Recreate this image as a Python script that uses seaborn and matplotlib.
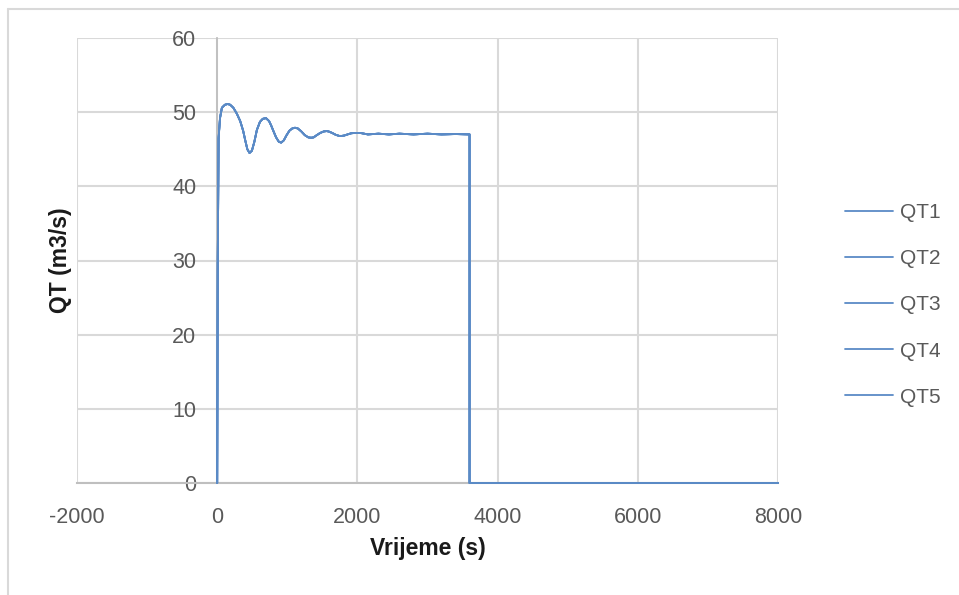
import pandas as pd
import seaborn as sns
import matplotlib.pyplot as plt
from matplotlib.lines import Line2D

# vrijeme (s) i protok QT (m3/s), ocitano sa slike
vrijeme = [0, 8, 20, 40, 67, 110, 150, 185, 230, 280, 328, 370, 400, 430, 461,
           495, 530, 566, 610, 650, 695, 740, 770, 800, 840, 880, 913, 950, 990,
           1030, 1070, 1110, 1151, 1200, 1250, 1300, 1340, 1375, 1420, 1470,
           1520, 1560, 1589, 1640, 1690, 1740, 1780, 1812, 1860, 1910, 1960,
           2040, 2150, 2300, 2450, 2600, 2800, 3000, 3200, 3400, 3600, 3600, 8000]
qt = [0, 30, 46.5, 49.2, 50.6, 51.0, 51.1, 51.0, 50.6, 49.8, 48.8, 47.5, 46.2,
      45.0, 44.5, 44.8, 46.0, 47.6, 48.7, 49.1, 49.2, 48.8, 48.2, 47.5, 46.6,
      46.0, 45.9, 46.2, 46.9, 47.5, 47.8, 47.9, 47.8, 47.4, 46.9, 46.6, 46.55,
      46.6, 46.9, 47.2, 47.4, 47.45, 47.4, 47.2, 46.95, 46.8, 46.8, 46.85, 47.0,
      47.15, 47.2, 47.2, 47.0, 47.1, 47.0, 47.1, 47.0, 47.1, 47.0, 47.05, 47.0,
      0, 0]
serije = ["QT1", "QT2", "QT3", "QT4", "QT5"]
x_ticks = [-2000, 0, 2000, 4000, 6000, 8000]
y_ticks = [0, 10, 20, 30, 40, 50, 60]

df = pd.concat([pd.DataFrame({"t": vrijeme, "QT": qt, "serija": s}) for s in serije])

sns.set_style("white")
plt.rcParams["font.family"] = ["Liberation Sans", "DejaVu Sans"]
plt.rcParams["axes.unicode_minus"] = False

boja = "#5a8ac6"
fig = plt.figure(figsize=(9.59, 5.95), dpi=100)
ax = fig.add_axes([77 / 959, 1 - 483 / 595, 701 / 959, 445 / 595])

sns.lineplot(data=df, x="t", y="QT", hue="serija", palette=[boja] * 5,
             estimator=None, sort=False, linewidth=1.3, ax=ax, legend=False)
for ln in ax.lines:
    ln.set_clip_on(False)
    ln.set_zorder(3)

ax.set_xlim(-2000, 8000)
ax.set_ylim(0, 60)
ax.set_xticks(x_ticks)
ax.set_yticks(y_ticks)
ax.grid(True, color="#d9d9d9", linewidth=1.5)
ax.set_axisbelow(True)

for s in ["top", "right"]:
    ax.spines[s].set_visible(False)
ax.spines["left"].set_position(("data", 0))
ax.spines["left"].set_color("#bfbfbf")
ax.spines["left"].set_linewidth(1.3)
ax.spines["bottom"].set_color("#bfbfbf")
ax.spines["bottom"].set_linewidth(1.5)
ax.tick_params(axis="both", length=0, labelsize=15.5, labelcolor="#595959")
ax.tick_params(axis="y", pad=15)
ax.tick_params(axis="x", pad=17)

ax.set_xlabel("Vrijeme (s)", fontsize=16.5, fontweight="bold", color="#1a1a1a")
ax.set_ylabel("QT (m3/s)", fontsize=16.5, fontweight="bold", color="#1a1a1a")
ax.yaxis.set_label_coords(-(77 - 60) / 701, 0.5)
ax.xaxis.set_label_coords(0.5, -(549 - 483) / 445)
ax.xaxis.label.set_va("center")
ax.yaxis.label.set_va("center")

rucke = [Line2D([0], [0], color=boja, linewidth=1.3) for _ in serije]
fig.legend(rucke, serije, loc="center left", bbox_to_anchor=(845 / 959, 1 - 305 / 595),
           frameon=False, fontsize=15, labelcolor="#595959", handlelength=2.3,
           handletextpad=0.35, labelspacing=1.3, borderpad=0, borderaxespad=0)

# okvir grafikona
fig.add_artist(Line2D([8 / 959, 1], [1 - 9 / 595, 1 - 9 / 595], color="#d9d9d9", linewidth=1.5))
fig.add_artist(Line2D([8 / 959, 8 / 959], [0, 1 - 9 / 595], color="#d9d9d9", linewidth=1.5))

fig.savefig("out.png", dpi=100)
